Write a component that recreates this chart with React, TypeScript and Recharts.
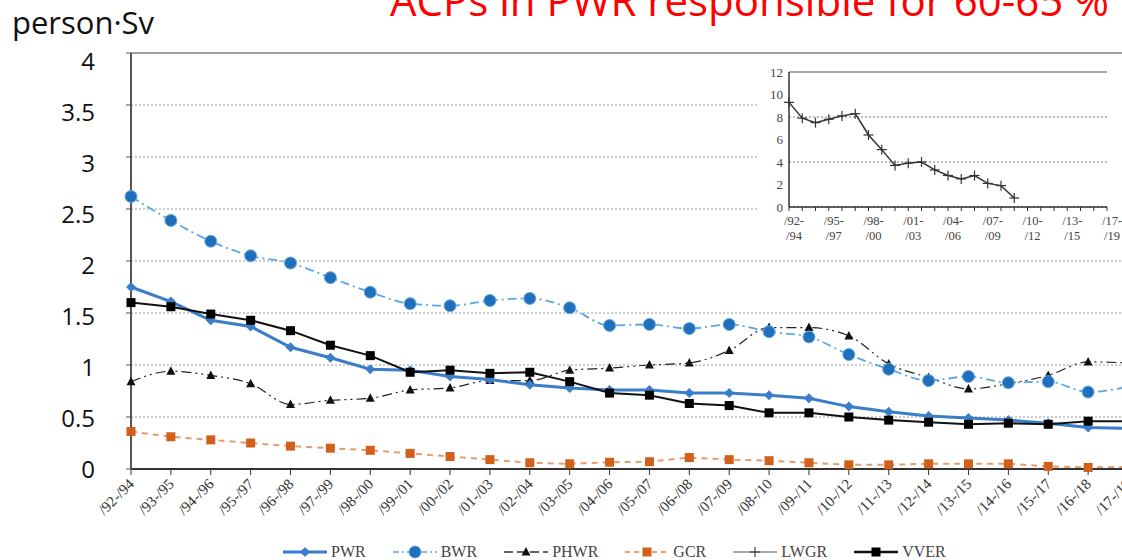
import React from 'react';
import { LineChart, Line, XAxis, YAxis, CartesianGrid, Legend, ReferenceLine } from 'recharts';

// collective dose per reactor, 3-year rolling averages
const periods = [
  '/92-/94', '/93-/95', '/94-/96', '/95-/97', '/96-/98', '/97-/99', '/98-/00', '/99-/01', '/00-/02',
  '/01-/03', '/02-/04', '/03-/05', '/04-/06', '/05-/07', '/06-/08', '/07-/09', '/08-/10', '/09-/11',
  '/10-/12', '/11-/13', '/12-/14', '/13-/15', '/14-/16', '/15-/17', '/16-/18', '/17-/19',
];
const pwr = [1.75, 1.61, 1.43, 1.37, 1.17, 1.07, 0.96, 0.95, 0.89, 0.86, 0.81, 0.78, 0.76, 0.76, 0.73, 0.73, 0.71, 0.68, 0.6, 0.55, 0.51, 0.49, 0.47, 0.44, 0.4, 0.39];
const bwr = [2.62, 2.39, 2.19, 2.05, 1.98, 1.84, 1.7, 1.59, 1.57, 1.62, 1.64, 1.55, 1.38, 1.39, 1.35, 1.39, 1.32, 1.27, 1.1, 0.96, 0.85, 0.89, 0.83, 0.84, 0.74, 0.79];
const phwr = [0.84, 0.94, 0.9, 0.82, 0.62, 0.66, 0.68, 0.76, 0.78, 0.85, 0.85, 0.95, 0.97, 1.0, 1.02, 1.14, 1.36, 1.36, 1.28, 1.01, 0.88, 0.77, 0.82, 0.9, 1.03, 1.02];
const gcr = [0.36, 0.31, 0.28, 0.25, 0.22, 0.2, 0.18, 0.15, 0.12, 0.09, 0.06, 0.05, 0.065, 0.07, 0.11, 0.09, 0.08, 0.06, 0.04, 0.04, 0.05, 0.05, 0.05, 0.025, 0.015, 0.02];
const vver = [1.6, 1.56, 1.49, 1.43, 1.33, 1.19, 1.09, 0.93, 0.95, 0.92, 0.93, 0.84, 0.73, 0.71, 0.63, 0.61, 0.54, 0.54, 0.5, 0.47, 0.45, 0.43, 0.44, 0.43, 0.46, 0.46];
const yTicks = [0, 0.5, 1, 1.5, 2, 2.5, 3, 3.5, 4];

// inset: LWGR
const insetPeriods = periods.slice(0, 25);
const lwgr = [9.3, 7.9, 7.5, 7.8, 8.1, 8.3, 6.4, 5.1, 3.7, 3.9, 4.0, 3.3, 2.8, 2.5, 2.8, 2.1, 1.9, 0.8, null, null, null, null, null, null, null];
const insetTickLabels = ['/92-|/94', '', '', '/95-|/97', '', '', '/98-|/00', '', '', '/01-|/03', '', '', '/04-|/06', '', '', '/07-|/09', '', '', '/10-|/12', '', '', '/13-|/15', '', '', '/17-|/19'];
const insetYTicks = [0, 2, 4, 6, 8, 10, 12];

const data = periods.map((period, i) => ({
  period, PWR: pwr[i], BWR: bwr[i], PHWR: phwr[i], GCR: gcr[i], VVER: vver[i],
}));
const insetData = insetPeriods.map((period, i) => ({ period, LWGR: lwgr[i] }));

const Marker = ({ kind, cx, cy, fill }: any) => {
  if (cx == null || cy == null) return null;
  if (kind === 'diamond') return <polygon points={`${cx},${cy - 5} ${cx + 5},${cy} ${cx},${cy + 5} ${cx - 5},${cy}`} fill={fill} />;
  if (kind === 'circle') return <circle cx={cx} cy={cy} r={6} fill={fill} stroke="#6aa8e0" strokeWidth={1} />;
  if (kind === 'triangle') return <polygon points={`${cx},${cy - 5} ${cx + 4.5},${cy + 3.5} ${cx - 4.5},${cy + 3.5}`} fill={fill} />;
  if (kind === 'square') return <rect x={cx - 4.5} y={cy - 4.5} width={9} height={9} fill={fill} />;
  if (kind === 'plus')
    return (
      <g stroke={fill} strokeWidth={1.2}>
        <line x1={cx - 5} y1={cy} x2={cx + 5} y2={cy} />
        <line x1={cx} y1={cy - 5} x2={cx} y2={cy + 5} />
      </g>
    );
  return null;
};

const dotOf = (kind: string, fill: string, name: string) => (p: any) => (
  <Marker key={`${name}-${p.index}`} kind={kind} cx={p.cx} cy={p.cy} fill={fill} />
);

const legendItems = [
  { name: 'PWR', line: '#3a7dc9', width: 3, dash: undefined, marker: 'diamond', fill: '#3a7dc9' },
  { name: 'BWR', line: '#5aa6e6', width: 1.5, dash: '6 3 2 3', marker: 'circle', fill: '#1f6fba' },
  { name: 'PHWR', line: '#333', width: 1.5, dash: '9 4', marker: 'triangle', fill: '#111' },
  { name: 'GCR', line: '#e89b6b', width: 2, dash: '5 4', marker: 'square', fill: '#d0601a' },
  { name: 'LWGR', line: '#555', width: 1.2, dash: undefined, marker: 'plus', fill: '#444' },
  { name: 'VVER', line: '#111', width: 2.5, dash: undefined, marker: 'square', fill: '#000' },
];

const LegendContent = () => (
  <div style={{ display: 'flex', alignItems: 'center', height: 16, paddingLeft: 283, fontFamily: '"Liberation Serif", serif', fontSize: 16, color: '#444' }}>
    {legendItems.map(item => (
      <div key={item.name} style={{ display: 'flex', alignItems: 'center', marginRight: 27 }}>
        <svg width={44} height={14}>
          <line x1={0} y1={7} x2={44} y2={7} stroke={item.line} strokeWidth={item.width} strokeDasharray={item.dash} />
          <Marker kind={item.marker} cx={22} cy={7} fill={item.fill} />
        </svg>
        <span style={{ marginLeft: 4 }}>{item.name}</span>
      </div>
    ))}
  </div>
);

const YTick = ({ x, y, payload }: any) => (
  <text x={x} y={y + payload.value * 2} dy="0.355em" textAnchor="end" fill="#111" fontSize={24} fontFamily='"Open Sans", sans-serif'>
    {payload.value}
  </text>
);

const XTick = ({ x, y, payload }: any) => (
  <text x={x + 4} y={y + 8} transform={`rotate(-45 ${x + 4} ${y + 8})`} textAnchor="end" fill="#333" fontSize={15} fontFamily='"Liberation Serif", serif'>
    {payload.value}
  </text>
);

const InsetXTick = ({ x, y, index }: any) => {
  const label = insetTickLabels[index];
  if (!label) return null;
  const [a, b] = label.split('|');
  return (
    <text x={x + 5} y={y + 6} textAnchor="middle" fill="#444" fontSize={12.5} fontFamily='"Liberation Serif", serif'>
      <tspan x={x + 5} dy="0.5em">{a}</tspan>
      <tspan x={x + 5} dy="1.2em">{b}</tspan>
    </text>
  );
};

const Inset = () => (
  <div style={{ position: 'absolute', left: 758, top: 60, width: 364, height: 192, background: '#fff' }}>
    <LineChart width={364} height={190} data={insetData} margin={{ top: 12, right: 15, left: 0, bottom: 0 }}>
      <CartesianGrid vertical={false} stroke="#777" strokeDasharray="2 2" />
      <ReferenceLine y={12} stroke="#999" strokeWidth={1.5} />
      <XAxis dataKey="period" interval={0} height={43} tick={<InsetXTick />} tickSize={4} tickLine={{ stroke: '#333' }} axisLine={{ stroke: '#333', strokeWidth: 1.5 }} />
      <YAxis domain={[0, 12]} ticks={insetYTicks} width={31} tickSize={0} tickMargin={6} axisLine={{ stroke: '#333', strokeWidth: 1.5 }}
        tick={{ fill: '#444', fontSize: 13, fontFamily: '"Liberation Serif", serif' }} />
      <Line dataKey="LWGR" stroke="#333" strokeWidth={1.5} dot={dotOf('plus', '#333', 'lwgr')} isAnimationActive={false} />
    </LineChart>
  </div>
);

export default function App() {
  return (
    <div style={{ position: 'fixed', left: 0, top: 0, width: 1122, height: 560, overflow: 'hidden', background: '#fff' }}>
      <LineChart width={1160} height={560} data={data} margin={{ top: 53, right: 32, left: 0, bottom: 0 }}>
        <CartesianGrid vertical={false} stroke="#999" strokeDasharray="2 2" />
        <ReferenceLine y={4} stroke="#888" strokeWidth={1.5} />
        <XAxis dataKey="period" interval={0} height={75} tick={<XTick />} tickSize={6} tickLine={{ stroke: '#333' }} axisLine={{ stroke: '#333', strokeWidth: 2 }} />
        <YAxis domain={[0, 4]} ticks={yTicks} width={131} tickSize={5} tickMargin={31} tick={<YTick />} tickLine={{ stroke: '#555' }} axisLine={{ stroke: '#555', strokeWidth: 2 }} />
        <Legend verticalAlign="bottom" content={<LegendContent />} wrapperStyle={{ left: 0, width: 1122 }} />
        <Line dataKey="GCR" stroke="#e89b6b" strokeWidth={2} strokeDasharray="6 5" dot={dotOf('square', '#d0601a', 'gcr')} isAnimationActive={false} legendType="none" />
        <Line dataKey="PHWR" type="monotone" stroke="#222" strokeWidth={1.2} strokeDasharray="10 4 2 4 2 4" dot={dotOf('triangle', '#111', 'phwr')} isAnimationActive={false} />
        <Line dataKey="BWR" type="monotone" stroke="#5aa6e6" strokeWidth={1.8} strokeDasharray="9 4 2 4" dot={dotOf('circle', '#1f6fba', 'bwr')} isAnimationActive={false} />
        <Line dataKey="PWR" stroke="#3a7dc9" strokeWidth={3} dot={dotOf('diamond', '#3a7dc9', 'pwr')} isAnimationActive={false} />
        <Line dataKey="VVER" stroke="#111" strokeWidth={2} dot={dotOf('square', '#000', 'vver')} isAnimationActive={false} />
      </LineChart>
      <Inset />
      <div style={{ position: 'absolute', left: 12, top: 7, fontFamily: '"Open Sans", sans-serif', fontSize: 31, lineHeight: '31px', color: '#111' }}>
        person·Sv
      </div>
      <div style={{ position: 'absolute', left: 390, top: -21, fontFamily: '"Open Sans", sans-serif', fontSize: 42, lineHeight: '42px', color: '#ff0000', whiteSpace: 'nowrap' }}>
        ACPs in PWR responsible for 60-65 %
      </div>
    </div>
  );
}
